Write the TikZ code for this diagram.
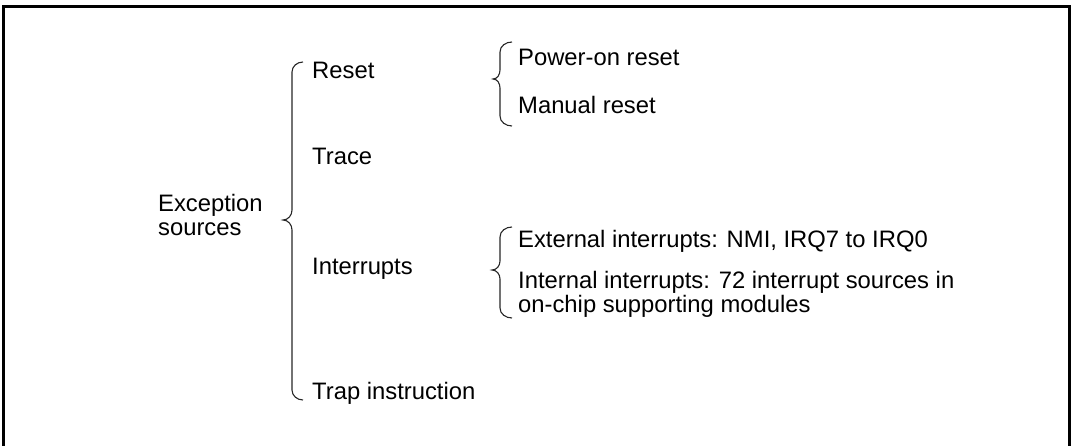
\documentclass[tikz,border=0pt]{standalone}
\usepackage{fontspec}
\setmainfont{Liberation Sans}
\begin{document}
\begin{tikzpicture}[x=1pt,y=-1pt,
  lbl/.style={anchor=base west,inner sep=0pt,font=\fontsize{23.8}{24}\selectfont},
  brc/.style={line width=1.1pt,draw=black!85}]
\useasboundingbox (0,0) rectangle (1073,446);
\draw[line width=2.2pt] (3.5,447) -- (3.5,6.5) -- (1069.5,6.5) -- (1069.5,447);
% big brace
\coordinate (b1t) at (303,62);
\coordinate (b1p) at (283,220);
\coordinate (b1b) at (303,400);
\draw[brc] (b1t) to[out=180,in=90] (292,72) -- (292,210) to[out=270,in=0] (b1p) to[out=0,in=90] (292,230) -- (292,390) to[out=270,in=180] (b1b);
% reset brace
\coordinate (b2t) at (512,42);
\coordinate (b2p) at (493,79);
\coordinate (b2b) at (512,126);
\draw[brc] (b2t) to[out=180,in=90] (500,52) -- (500,70) to[out=270,in=0] (b2p) to[out=0,in=90] (500,88) -- (500,116) to[out=270,in=180] (b2b);
% interrupt brace
\coordinate (b3t) at (512,227);
\coordinate (b3p) at (492,270);
\coordinate (b3b) at (512,318);
\draw[brc] (b3t) to[out=180,in=90] (500,237) -- (500,261) to[out=270,in=0] (b3p) to[out=0,in=90] (500,279) -- (500,308) to[out=270,in=180] (b3b);
% texts
\node[lbl] (exc1) at (158,212) {Exception};
\node[lbl] (exc2) at (158,236) {sources};
\node[lbl] (reset) at (312,79) {Reset};
\node[lbl] (trace) at (312,165) {Trace};
\node[lbl] (intr) at (312,275) {Interrupts};
\node[lbl] (trap) at (312,399) {Trap instruction};
\node[lbl] (por) at (518,66) {Power-on reset};
\node[lbl] (man) at (518,114) {Manual reset};
\node[lbl] (ext) at (518,248) {External interrupts: NMI, IRQ7 to IRQ0};
\node[lbl] (int1) at (518,288) {Internal interrupts: 72 interrupt sources in};
\node[lbl] (int2) at (518,312) {on-chip supporting modules};
\end{tikzpicture}
\end{document}
